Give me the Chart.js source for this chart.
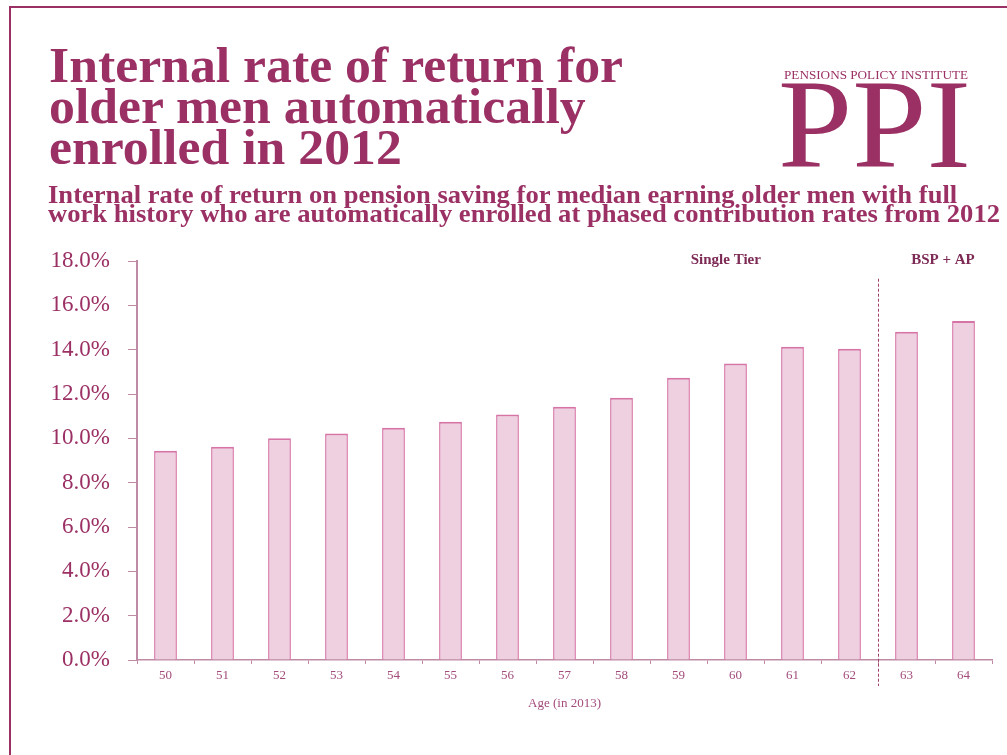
<!DOCTYPE html>
<html>
<head>
<meta charset="utf-8">
<script src="https://cdn.jsdelivr.net/npm/chart.js@4.4.1/dist/chart.umd.min.js"></script>
<style>
  html, body { margin: 0; padding: 0; background: #fff; }
  body { width: 1007px; height: 755px; position: relative; overflow: hidden; }
  #frame { position: absolute; left: 9px; top: 6px; width: 1100px; height: 800px;
           border-top: 2px solid #9b3064; border-left: 2px solid #9b3064; }
  #chart { position: absolute; left: 0; top: 0; }
  .txt { position: absolute; white-space: nowrap; color: #9b3064; font-family: "Liberation Serif", serif;
         transform-origin: 0 0; }
  #title { left: 49px; top: 45px; font-size: 51px; line-height: 41px; font-weight: bold; }
  #subtitle { left: 48px; top: 185px; font-size: 25px; line-height: 19px; font-weight: bold; }
  #ppiName { left: 784px; top: 69px; font-size: 12px; line-height: 12px; }
  #ppi { left: 778px; top: 60px; font-size: 127px; line-height: 128px; }
</style>
</head>
<body>
<div id="frame"></div>
<canvas id="chart" width="1007" height="755"></canvas>
<div class="txt" id="title"><span id="t1">Internal rate of return for</span><br>older men automatically<br>enrolled in 2012</div>
<div class="txt" id="subtitle">Internal rate of return on pension saving for median earning older men with full<br><span id="s2">work history who are automatically enrolled at phased contribution rates from 2012</span></div>
<div class="txt" id="ppiName"><span id="pn">PENSIONS POLICY INSTITUTE</span></div>
<div class="txt" id="ppi"><span id="pp">PPI</span></div>
<script>
// chart data
const ages = ['50', '51', '52', '53', '54', '55', '56', '57', '58', '59', '60', '61', '62', '63', '64'];
const irr = [9.44, 9.62, 10.0, 10.22, 10.48, 10.75, 11.07, 11.43, 11.83, 12.73, 13.38, 14.13, 14.04, 14.81, 15.29];
const regime = ['Single Tier', 'Single Tier', 'Single Tier', 'Single Tier', 'Single Tier', 'Single Tier', 'Single Tier',
                'Single Tier', 'Single Tier', 'Single Tier', 'Single Tier', 'Single Tier', 'Single Tier', 'BSP + AP', 'BSP + AP'];
const yTicks = [0, 2, 4, 6, 8, 10, 12, 14, 16, 18];

const purple = '#9b3064';
const axisColor = '#bf8aa4';

// stretch the text blocks to the widths used in the reference
function fit(boxId, spanId, width) {
	const box = document.getElementById(boxId);
	const w = document.getElementById(spanId).getBoundingClientRect().width;
	box.style.transform = `scaleX(${width / w})`;
}
fit('title', 't1', 574);
fit('subtitle', 's2', 952);
fit('ppiName', 'pn', 184);
fit('ppi', 'pp', 193);

// where the regime labels sit (in category units) and how high the divider starts
const regimeLabelAt = { 'Single Tier': 9.83, 'BSP + AP': 13.64 };
const dividerTop = 17.2;

const regimePlugin = {
	id: 'regimes',
	afterDatasetsDraw(chart) {
		const { ctx, chartArea, scales: { x, y } } = chart;
		ctx.save();
		// dashed divider where the regime changes
		for (let i = 1; i < regime.length; i++) {
			if (regime[i] !== regime[i - 1]) {
				const px = Math.round(x.getPixelForValue(i - 0.5)) + 0.5;
				ctx.strokeStyle = '#a0406e';
				ctx.lineWidth = 1;
				ctx.setLineDash([3, 2]);
				ctx.beginPath();
				ctx.moveTo(px, y.getPixelForValue(dividerTop));
				ctx.lineTo(px, chartArea.bottom + 26);
				ctx.stroke();
			}
		}
		ctx.setLineDash([]);
		ctx.fillStyle = '#7d2a55';
		ctx.font = 'bold 15px "Liberation Serif", serif';
		ctx.textAlign = 'center';
		ctx.textBaseline = 'middle';
		[...new Set(regime)].forEach((name) => {
			ctx.fillText(name, x.getPixelForValue(regimeLabelAt[name]), y.getPixelForValue(18) - 1);
		});
		ctx.restore();
	}
};

const myChart = new Chart(document.getElementById('chart').getContext('2d'), {
	type: 'bar',
	data: {
		labels: ages,
		datasets: [{
			label: 'Internal rate of return',
			data: irr,
			backgroundColor: '#efd0e0',
			borderColor: '#d674a6',
			borderWidth: { top: 2, left: 1.5, right: 1.5, bottom: 0 },
			borderSkipped: 'bottom',
			categoryPercentage: 1,
			barPercentage: 0.4
		}]
	},
	options: {
		responsive: false,
		animation: false,
		layout: { padding: { top: 261, left: 0, right: 15, bottom: 0 } },
		plugins: { legend: { display: false }, tooltip: { enabled: false }, title: { display: false } },
		scales: {
			x: {
				grid: { drawOnChartArea: false, drawTicks: true, tickLength: 4, color: axisColor, offset: true },
				border: { color: axisColor, width: 1.5 },
				ticks: { color: '#a34c7c', padding: 4, font: { family: '"Liberation Serif", serif', size: 13 } },
				title: {
					display: true, text: 'Age (in 2013)', color: '#a34c7c',
					font: { family: '"Liberation Serif", serif', size: 13 },
					padding: { top: 4, bottom: 44 }
				},
				afterFit(scale) { scale.height = 95; }
			},
			y: {
				min: 0,
				max: 18,
				afterBuildTicks(scale) { scale.ticks = yTicks.map((v) => ({ value: v })); },
				grid: { drawOnChartArea: false, drawTicks: true, tickLength: 9, color: axisColor },
				border: { color: axisColor, width: 2 },
				ticks: {
					color: purple, padding: 18,
					font: { family: '"Liberation Serif", serif', size: 23 },
					callback: (v) => v.toFixed(1) + '%'
				},
				afterFit(scale) { scale.width = 137; }
			}
		}
	},
	plugins: [regimePlugin]
});
</script>
</body>
</html>
